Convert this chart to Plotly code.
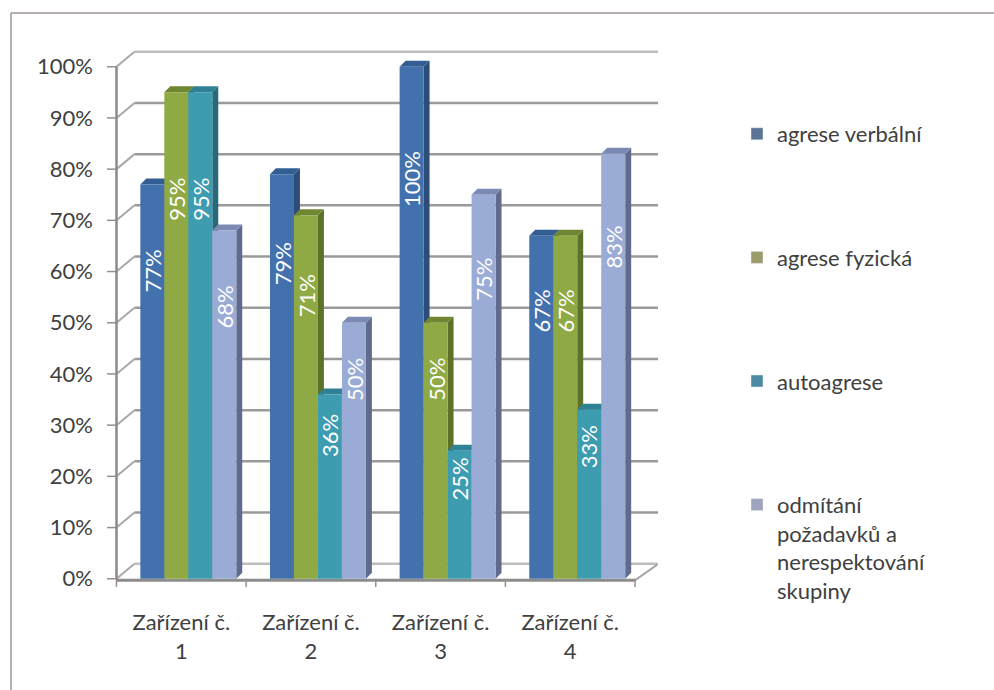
import plotly.graph_objects as go

# ---------------- data ----------------
categories = ["Zařízení č.<br>1", "Zařízení č.<br>2", "Zařízení č.<br>3", "Zařízení č.<br>4"]
series_names = [
    "agrese verbální",
    "agrese fyzická",
    "autoagrese",
    "odmítání<br>požadavků a<br>nerespektování<br>skupiny",
]
agrese_verbalni = [77, 79, 100, 67]
agrese_fyzicka = [95, 71, 50, 67]
autoagrese = [95, 36, 25, 33]
odmitani = [68, 50, 75, 83]
y_ticks = [0, 10, 20, 30, 40, 50, 60, 70, 80, 90, 100]

# ---------------- style ----------------
series_values = [agrese_verbalni, agrese_fyzicka, autoagrese, odmitani]
front_colors = ["#4371ad", "#8fa944", "#3e9cb1", "#9aabd6"]
side_colors = ["#2b4d78", "#5d7229", "#296a7a", "#5f6a8d"]
top_colors = ["#335e94", "#6f8732", "#2f8295", "#7c8ab3"]
legend_colors = ["#5b7394", "#9b9b6c", "#4b8aa1", "#9fa3bb"]

FONT = "Lato"
FSIZE = 22
TEXT_COLOR = "#404040"
x_idx = list(range(len(categories)))
bar_w = 0.185
offsets = [-0.316, -0.131, 0.054, 0.239]
DX, DY = 0.046, 1.17          # bar depth (3D look)
BDX, BDY = 0.139, 2.93        # wall depth
X_LEFT = -0.5
X_RIGHT = len(categories) - 0.5
label_frac = 0.78

fig = go.Figure()

shapes = []
# back wall gridlines + diagonals
for v in y_ticks:
    shapes.append(dict(type="line", xref="x", yref="y", layer="below",
                       x0=X_LEFT + BDX, x1=X_RIGHT + 0.18, y0=v + BDY, y1=v + BDY,
                       line=dict(color="#bdbdbd" if v in (0, 100) else "#9a9a9a", width=2.5)))
    shapes.append(dict(type="line", xref="x", yref="y", layer="below",
                       x0=X_LEFT, x1=X_LEFT + BDX, y0=v, y1=v + BDY,
                       line=dict(color="#a8a8a8", width=2)))
    # y tick marks
    shapes.append(dict(type="line", xref="x", yref="y", layer="below",
                       x0=X_LEFT - 0.075, x1=X_LEFT, y0=v, y1=v,
                       line=dict(color="#9a8c8c", width=1.5)))
# y-axis line
shapes.append(dict(type="line", xref="x", yref="y", layer="below",
                   x0=X_LEFT, x1=X_LEFT, y0=0, y1=100,
                   line=dict(color="#8a8a8a", width=2.5)))
# floor front line + right diagonal
shapes.append(dict(type="line", xref="x", yref="y", layer="below",
                   x0=X_LEFT, x1=X_RIGHT, y0=-0.3, y1=-0.3,
                   line=dict(color="#8c8c8c", width=3)))
shapes.append(dict(type="line", xref="x", yref="y", layer="below",
                   x0=X_RIGHT, x1=X_RIGHT + 0.17, y0=-0.3, y1=BDY - 0.2,
                   line=dict(color="#a0a0a0", width=2)))
# x tick marks at category boundaries
for k in range(len(categories) + 1):
    shapes.append(dict(type="line", xref="x", yref="y", layer="below",
                       x0=X_LEFT + k, x1=X_LEFT + k, y0=0, y1=-1.6,
                       line=dict(color="#9a8c8c", width=1.5)))

# 3D faces of bars (derived from the data values)
for j in x_idx:
    for i, vals in enumerate(series_values):
        v = vals[j]
        x0 = j + offsets[i]
        x1 = x0 + bar_w
        shapes.append(dict(type="path", xref="x", yref="y", layer="below",
                           path=f"M{x1},0 L{x1},{v} L{x1+DX},{v+DY} L{x1+DX},{DY} Z",
                           fillcolor=side_colors[i], line=dict(width=0)))
        shapes.append(dict(type="path", xref="x", yref="y", layer="below",
                           path=f"M{x0},{v} L{x1},{v} L{x1+DX},{v+DY} L{x0+DX},{v+DY} Z",
                           fillcolor=top_colors[i], line=dict(width=0)))

# outer frame (top and left edges)
shapes.append(dict(type="line", xref="paper", yref="paper",
                   x0=-0.1742, x1=2.0, y0=1.0569, y1=1.0569,
                   line=dict(color="#a09494", width=1.5)))
shapes.append(dict(type="line", xref="paper", yref="paper",
                   x0=-0.1742, x1=-0.1742, y0=-1.0, y1=1.0569,
                   line=dict(color="#a09494", width=1.5)))

# bar front faces
for i, vals in enumerate(series_values):
    fig.add_trace(go.Bar(
        x=x_idx, y=vals, width=bar_w, offset=offsets[i],
        marker=dict(color=front_colors[i], line=dict(width=0)),
        showlegend=False, hoverinfo="skip",
    ))

# legend entries
for i, name in enumerate(series_names):
    fig.add_trace(go.Bar(
        x=[None], y=[None], name=name, legendgroup=f"g{i}",
        marker=dict(color=legend_colors[i]), showlegend=True,
    ))

# data labels
annotations = []
for i, vals in enumerate(series_values):
    for j in x_idx:
        v = vals[j]
        annotations.append(dict(
            x=j + offsets[i] + bar_w / 2, y=v * label_frac, xref="x", yref="y",
            text=f"{v}%", showarrow=False, textangle=-90,
            font=dict(family=FONT, size=FSIZE, color="white"),
        ))

fig.update_layout(
    width=994, height=690,
    margin=dict(l=107, r=336, t=44, b=101),
    paper_bgcolor="white", plot_bgcolor="white",
    barmode="overlay",
    shapes=shapes,
    annotations=annotations,
    font=dict(family=FONT, size=FSIZE, color=TEXT_COLOR),
    xaxis=dict(
        range=[-0.5732, 3.6769], tickmode="array", tickvals=x_idx, ticktext=categories,
        showgrid=False, zeroline=False, showline=False, ticks="",
        tickfont=dict(family=FONT, size=FSIZE, color=TEXT_COLOR),
        ticklabelstandoff=18, automargin=False,
    ),
    yaxis=dict(
        range=[-2, 104.44], tickmode="array", tickvals=y_ticks,
        ticktext=[f"{v}%" for v in y_ticks],
        showgrid=False, zeroline=False, showline=False, ticks="",
        tickfont=dict(family=FONT, size=FSIZE, color=TEXT_COLOR),
        ticklabelstandoff=13, automargin=False,
    ),
    legend=dict(
        xref="container", yref="container",
        x=737 / 994, y=1 - 113 / 690, xanchor="left", yanchor="top",
        traceorder="grouped", tracegroupgap=92, valign="top",
        maxheight=660,
        font=dict(family=FONT, size=FSIZE, color=TEXT_COLOR),
        bgcolor="rgba(0,0,0,0)",
    ),
)

fig.write_html("out.html")
